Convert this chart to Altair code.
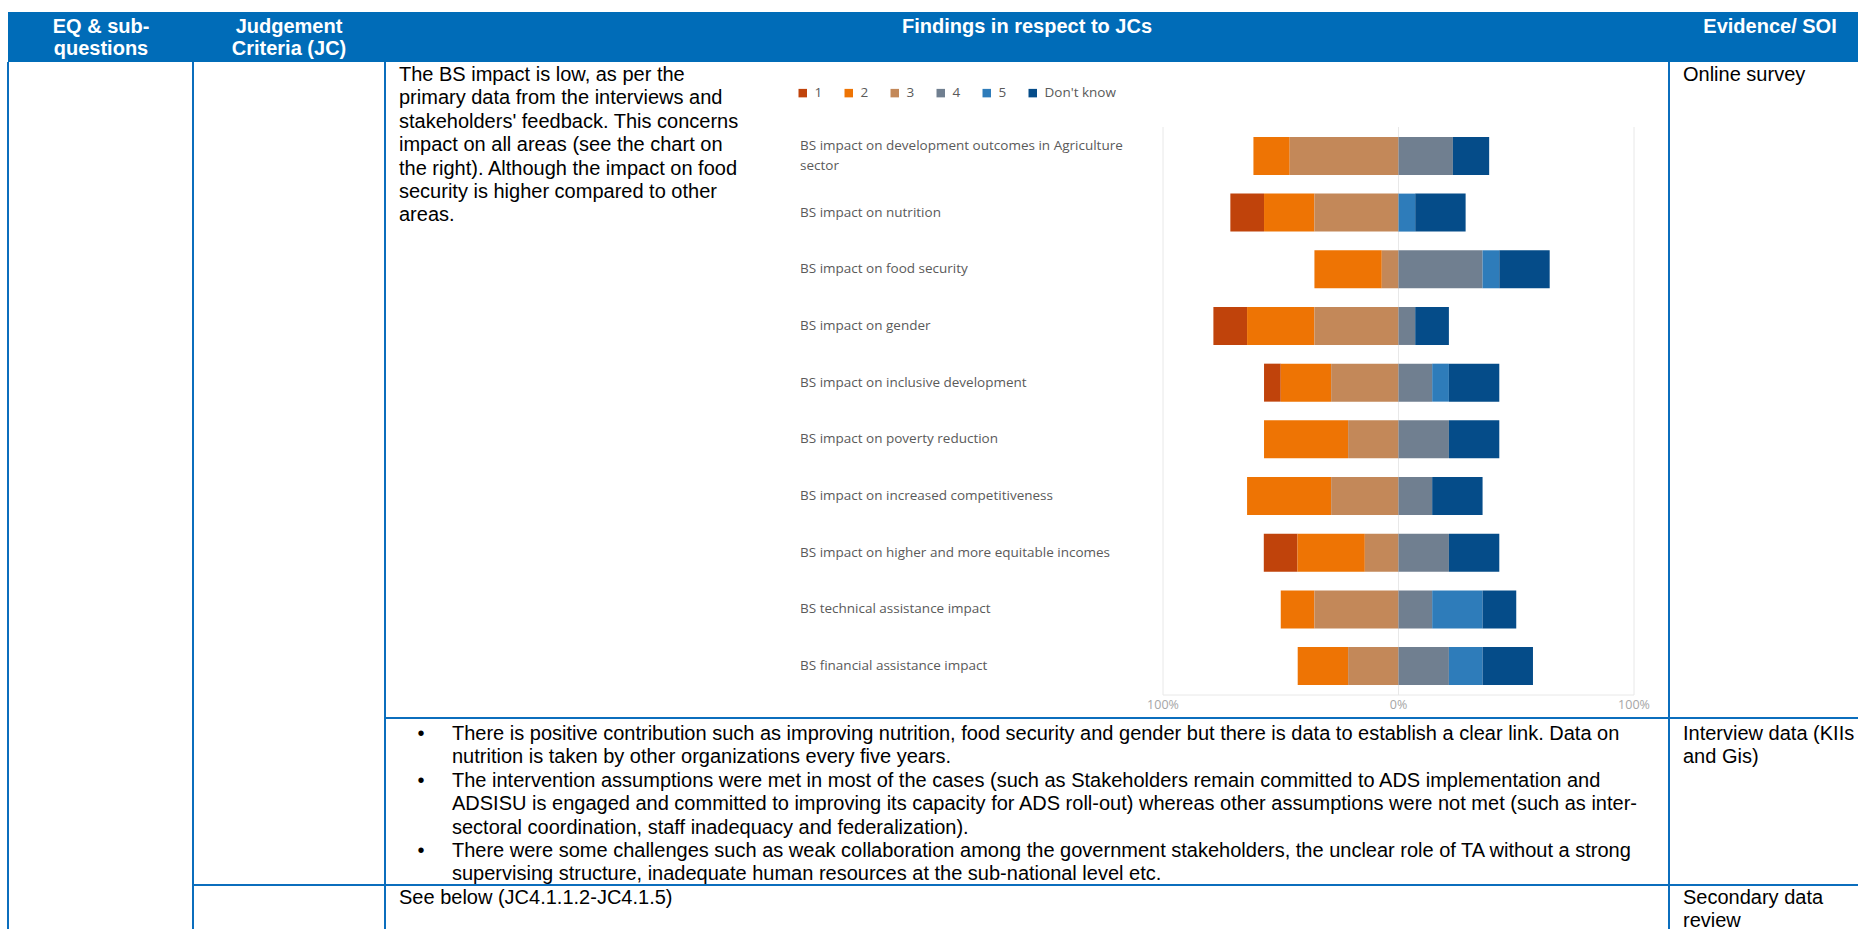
import altair as alt
import pandas as pd

# ---------------- chart data ----------------
categories = [
    "BS impact on development outcomes in Agriculture sector",
    "BS impact on nutrition",
    "BS impact on food security",
    "BS impact on gender",
    "BS impact on inclusive development",
    "BS impact on poverty reduction",
    "BS impact on increased competitiveness",
    "BS impact on higher and more equitable incomes",
    "BS technical assistance impact",
    "BS financial assistance impact",
]
category_labels = [
    "BS impact on development outcomes in Agriculture\nsector",
    "BS impact on nutrition",
    "BS impact on food security",
    "BS impact on gender",
    "BS impact on inclusive development",
    "BS impact on poverty reduction",
    "BS impact on increased competitiveness",
    "BS impact on higher and more equitable incomes",
    "BS technical assistance impact",
    "BS financial assistance impact",
]
ratings = ["1", "2", "3", "4", "5", "Don't know"]
negative_ratings = ["1", "2", "3"]
stack_order = ["3", "2", "1", "4", "5", "Don't know"]

# percent of respondents per rating, one value per category (top to bottom)
r1 = [0, 14.3, 0, 14.3, 7.1, 0, 0, 14.3, 0, 0]
r2 = [15.4, 21.4, 28.6, 28.6, 21.4, 35.7, 35.7, 28.6, 14.3, 21.4]
r3 = [46.2, 35.7, 7.1, 35.7, 28.6, 21.4, 28.6, 14.3, 35.7, 21.4]
r4 = [23.1, 0, 35.7, 7.1, 14.3, 21.4, 14.3, 21.4, 14.3, 21.4]
r5 = [0, 7.1, 7.1, 0, 7.1, 0, 0, 0, 21.4, 14.3]
r_dk = [15.4, 21.4, 21.4, 14.3, 21.4, 21.4, 21.4, 21.4, 14.3, 21.4]
series = [r1, r2, r3, r4, r5, r_dk]

tick_values = [-100, 0, 100]
tick_labels = ["100%", "0%", "100%"]

colors = ["#C0430B", "#EE7404", "#C38859", "#707F90", "#2E7CBA", "#054C89"]

# ---------------- table text ----------------
header_cols = [
    (["EQ & sub-", "questions"], 101),
    (["Judgement", "Criteria (JC)"], 289),
    (["Findings in respect to JCs"], 1027),
    (["Evidence/ SOI"], 1770),
]
finding_text = [
    "The BS impact is low, as per the",
    "primary data from the interviews and",
    "stakeholders' feedback. This concerns",
    "impact on all areas (see the chart on",
    "the right). Although the impact on food",
    "security is higher compared to other",
    "areas.",
]
bullets = [
    ["There is positive contribution such as improving nutrition, food security and gender but there is data to establish a clear link. Data on",
     "nutrition is taken by other organizations every five years."],
    ["The intervention assumptions were met in most of the cases (such as Stakeholders remain committed to ADS implementation and",
     "ADSISU is engaged and committed to improving its capacity for ADS roll-out) whereas other assumptions were not met (such as inter-",
     "sectoral coordination, staff inadequacy and federalization)."],
    ["There were some challenges such as weak collaboration among the government stakeholders, the unclear role of TA without a strong",
     "supervising structure, inadequate human resources at the sub-national level etc."],
]
see_below = ["See below (JC4.1.1.2-JC4.1.5)"]
evidence = [["Online survey"], ["Interview data (KIIs", "and Gis)"], ["Secondary data", "review"]]

# ---------------- build data ----------------
rows = []
for rating, vals in zip(ratings, series):
    for cat, v in zip(categories, vals):
        if v == 0:
            continue
        rows.append({
            "cat": cat,
            "rating": rating,
            "val": -v if rating in negative_ratings else v,
            "ord": stack_order.index(rating),
        })
df = pd.DataFrame(rows)
labels_df = pd.DataFrame({
    "cat": categories,
    "label": category_labels,
    "nlines": [lab.count("\n") + 1 for lab in category_labels],
})
ticks_df = pd.DataFrame({"t": tick_values, "lab": tick_labels})
frame_df = pd.DataFrame({"a": [tick_values[0]], "b": [tick_values[-1]]})
one = pd.DataFrame({"k": [0]})

W, H = 1858, 929
HDR = "#006CB8"
LINE = "#0B6EBD"
GRID = "#E8E8E8"
LABEL_GREY = "#5A5A5A"
BODY_LH = 23.4
CAT_LH = 20

xscale = alt.Scale(domain=[-100, 100], range=[1163, 1634], nice=False, zero=False)
yscale = alt.Scale(domain=categories, range=[127, 695], paddingInner=0.33, paddingOuter=0.175)


def text_block(lines, x, y_first, size=20, bold=False, color="black", align="left", lh=BODY_LH,
               font="Liberation Sans"):
    # multi-line text: first line is centred on y_first, following lines go downwards
    return alt.Chart(one).mark_text(
        align=align, baseline="middle", font=font, fontSize=size,
        fontWeight="bold" if bold else "normal", color=color, lineHeight=lh, lineBreak="\n",
    ).encode(x=alt.value(x), y=alt.value(y_first), text=alt.value("\n".join(lines)))


def hline(x1, x2, y, w=2):
    return alt.Chart(one).mark_rule(color=LINE, strokeWidth=w).encode(
        x=alt.value(x1), x2=alt.value(x2), y=alt.value(y))


def vline(x, y1, y2, w=2):
    return alt.Chart(one).mark_rule(color=LINE, strokeWidth=w).encode(
        x=alt.value(x), y=alt.value(y1), y2=alt.value(y2))


layers = []
# header band
layers.append(alt.Chart(one).mark_rect(color=HDR).encode(
    x=alt.value(8), x2=alt.value(W), y=alt.value(12), y2=alt.value(62)))
for lines, cx in header_cols:
    layers.append(text_block(lines, cx, 26.7 if len(lines) > 1 else 27, size=20, bold=True,
                             color="white", align="center", lh=22.6))
# grid of the table
layers += [
    vline(8, 62, H), vline(193, 62, H), vline(385, 62, H), vline(1669, 62, H),
    hline(385, W, 718), hline(193, W, 885),
]
# body text
layers.append(text_block(finding_text, 399, 75))
layers.append(text_block(evidence[0], 1683, 75))
layers.append(text_block(evidence[1], 1683, 734))
layers.append(text_block(evidence[2], 1683, 898))
layers.append(text_block(see_below, 399, 898))
y = 734
for b in bullets:
    layers.append(text_block(["\u2022"], 421, y, align="center"))
    layers.append(text_block(b, 452, y))
    y += BODY_LH * len(b)

# ---------------- diverging bar chart ----------------
grid = alt.Chart(ticks_df).mark_rule(color=GRID, strokeWidth=1).encode(
    x=alt.X("t:Q", scale=xscale, axis=None), y=alt.value(127), y2=alt.value(695))
base_line = alt.Chart(frame_df).mark_rule(color=GRID, strokeWidth=1).encode(
    x=alt.X("a:Q", scale=xscale, axis=None), x2="b:Q", y=alt.value(695))
bars = alt.Chart(df).mark_bar().encode(
    y=alt.Y("cat:N", scale=yscale, axis=None),
    x=alt.X("val:Q", stack="zero", scale=xscale, axis=None),
    color=alt.Color("rating:N", scale=alt.Scale(domain=ratings, range=colors),
                    legend=alt.Legend(title=None, orient="none", legendX=796, legendY=86,
                                      direction="horizontal", symbolType="square", symbolSize=72,
                                      symbolStrokeWidth=0, labelFont="Open Sans", labelFontSize=13.5,
                                      labelColor=LABEL_GREY, columnPadding=19, labelOffset=5,
                                      padding=0)),
    order=alt.Order("ord:Q"),
)


def cat_text_layer(nlines):
    return alt.Chart(labels_df).transform_filter(
        alt.datum.nlines == nlines
    ).mark_text(
        align="left", baseline="middle", font="Open Sans", fontSize=13.5, color=LABEL_GREY,
        lineBreak="\n", lineHeight=CAT_LH, dy=-(nlines - 1) * CAT_LH / 2,
    ).encode(y=alt.Y("cat:N", scale=yscale, axis=None), x=alt.value(800), text="label:N")


tick_text = alt.Chart(ticks_df).mark_text(
    align="center", baseline="middle", font="Open Sans", fontSize=12.5, color="#A6A6A6",
).encode(x=alt.X("t:Q", scale=xscale, axis=None), y=alt.value(705), text="lab:N")

layers += [grid, base_line, bars, cat_text_layer(1), cat_text_layer(2), tick_text]

chart = alt.layer(*layers).properties(
    width=W, height=H, autosize=alt.AutoSizeParams(type="none"), padding=0
).configure(background="white").configure_view(stroke=None)

chart.save("out.html", embed_options={"renderer": "svg", "actions": False})
